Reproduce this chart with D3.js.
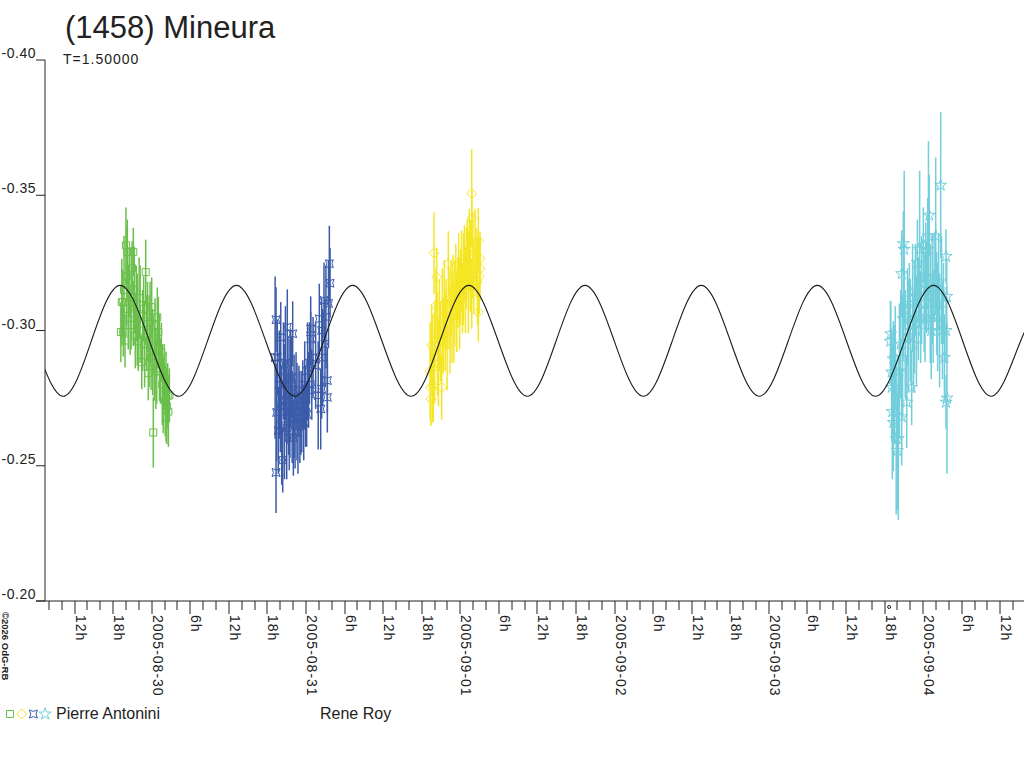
<!DOCTYPE html>
<html lang="en">
<head>
<meta charset="UTF-8">
<title>(1458) Mineura</title>
<script src="https://cdn.jsdelivr.net/npm/d3@7"></script>
<style>
  body { margin: 0; background: #fff; }
  text { font-family: "Liberation Sans", Arial, sans-serif; fill: #222; }
</style>
</head>
<body>
<script>
// hours since 2005-08-29 00:00 UT, magnitude, error
var green = [
  [19.20,-0.2994,0.0110],[19.35,-0.3105,0.0160],[19.49,-0.3105,0.0120],[19.58,-0.2994,0.0090],
  [19.70,-0.3150,0.0200],[19.85,-0.2963,0.0100],[20.00,-0.3315,0.0140],[20.10,-0.3200,0.0180],
  [20.21,-0.3290,0.0120],[20.35,-0.3080,0.0150],[20.50,-0.3180,0.0130],[20.65,-0.3020,0.0110],
  [20.80,-0.3120,0.0190],[20.95,-0.3230,0.0100],[21.14,-0.3290,0.0090],[21.14,-0.3063,0.0120],
  [21.30,-0.3150,0.0160],[21.45,-0.2980,0.0120],[21.60,-0.3100,0.0140],[21.75,-0.3040,0.0170],
  [21.90,-0.2960,0.0110],[22.05,-0.3120,0.0150],[22.20,-0.3060,0.0180],[22.45,-0.2883,0.0100],
  [22.60,-0.3000,0.0150],[22.75,-0.3080,0.0120],[22.90,-0.2950,0.0160],[23.07,-0.3216,0.0120],
  [23.20,-0.2990,0.0140],[23.35,-0.3050,0.0130],[23.47,-0.2842,0.0100],[23.60,-0.2960,0.0170],
  [23.75,-0.3030,0.0150],[23.90,-0.2900,0.0120],[24.00,-0.3086,0.0110],[24.15,-0.2920,0.0160],
  [24.25,-0.2623,0.0130],[24.40,-0.2880,0.0140],[24.51,-0.3019,0.0100],[24.65,-0.2860,0.0150],
  [24.78,-0.2849,0.0120],[24.87,-0.3049,0.0110],[25.03,-0.2994,0.0130],[25.20,-0.2900,0.0160],
  [25.35,-0.2850,0.0120],[25.50,-0.2920,0.0110],[25.65,-0.2800,0.0150],[25.80,-0.2760,0.0140],
  [25.95,-0.2830,0.0120],[26.10,-0.2740,0.0130],[26.23,-0.2821,0.0100],[26.23,-0.2679,0.0090],
  [26.35,-0.2720,0.0140],[26.49,-0.2759,0.0120],[26.60,-0.2700,0.0130],[26.75,-0.2760,0.0100]
];
var blue = [
  [43.20,-0.2900,0.0300],[43.34,-0.3040,0.0120],[43.34,-0.2475,0.0150],[43.44,-0.2697,0.0180],
  [43.54,-0.2901,0.0140],[43.69,-0.2630,0.0160],[43.85,-0.2800,0.0200],[44.00,-0.2720,0.0170],
  [44.07,-0.2975,0.0130],[44.22,-0.2650,0.0220],[44.38,-0.2521,0.0120],[44.50,-0.2850,0.0180],
  [44.65,-0.2700,0.0250],[44.80,-0.2880,0.0210],[44.89,-0.2741,0.0150],[45.00,-0.2640,0.0190],
  [45.09,-0.3012,0.0140],[45.20,-0.2780,0.0200],[45.30,-0.2700,0.0160],[45.40,-0.2603,0.0120],
  [45.50,-0.2750,0.0220],[45.62,-0.2820,0.0180],[45.78,-0.2827,0.0150],[45.85,-0.2680,0.0170],
  [45.93,-0.2988,0.0120],[46.03,-0.2603,0.0140],[46.15,-0.2720,0.0190],[46.30,-0.2650,0.0160],
  [46.45,-0.2780,0.0140],[46.60,-0.2700,0.0180],[46.75,-0.2620,0.0150],[46.90,-0.2740,0.0130],
  [47.05,-0.2680,0.0170],[47.20,-0.2650,0.0110],[47.35,-0.2700,0.0150],[47.50,-0.2760,0.0130],
  [47.65,-0.2660,0.0140],[47.80,-0.2800,0.0160],[47.95,-0.2720,0.0150],[48.10,-0.2690,0.0120],
  [48.25,-0.2850,0.0180],[48.40,-0.2780,0.0140],[48.55,-0.2880,0.0150],[48.73,-0.3006,0.0120],
  [48.73,-0.2969,0.0100],[48.90,-0.2800,0.0130],[49.10,-0.2900,0.0150],[49.50,-0.2870,0.0160],
  [49.90,-0.2760,0.0200],[50.07,-0.3043,0.0130],[50.29,-0.2710,0.0150],[50.44,-0.3000,0.0120],
  [50.44,-0.2784,0.0110],[50.60,-0.2900,0.0180],[50.80,-0.3111,0.0140],[50.95,-0.2950,0.0160],
  [51.10,-0.3050,0.0190],[51.32,-0.2815,0.0120],[51.32,-0.2753,0.0130],[51.50,-0.3100,0.0160],
  [51.63,-0.3247,0.0140],[51.74,-0.3175,0.0130]
];
var yellow = [
  [67.30,-0.2850,0.0180],[67.40,-0.2790,0.0140],[67.40,-0.2747,0.0100],[67.55,-0.2944,0.0150],
  [67.70,-0.2860,0.0200],[67.80,-0.2793,0.0130],[67.91,-0.3286,0.0150],[68.00,-0.2900,0.0170],
  [68.07,-0.2988,0.0120],[68.22,-0.3093,0.0140],[68.33,-0.3197,0.0110],[68.45,-0.2950,0.0190],
  [68.60,-0.2880,0.0160],[68.75,-0.3020,0.0170],[68.90,-0.2960,0.0150],[69.11,-0.2790,0.0120],
  [69.20,-0.3050,0.0180],[69.35,-0.2980,0.0140],[69.50,-0.3100,0.0160],[69.65,-0.3000,0.0150],
  [69.80,-0.3060,0.0130],[69.95,-0.2950,0.0170],[70.14,-0.3247,0.0120],[70.25,-0.3080,0.0150],
  [70.40,-0.3000,0.0160],[70.55,-0.3120,0.0140],[70.70,-0.3050,0.0170],[70.85,-0.3150,0.0130],
  [71.00,-0.3030,0.0150],[71.15,-0.3100,0.0160],[71.30,-0.3180,0.0140],[71.45,-0.3070,0.0150],
  [71.60,-0.3140,0.0130],[71.75,-0.3200,0.0160],[71.90,-0.3100,0.0170],[72.05,-0.3160,0.0140],
  [72.20,-0.3220,0.0150],[72.35,-0.3120,0.0130],[72.50,-0.3190,0.0170],[72.65,-0.3250,0.0140],
  [72.80,-0.3150,0.0160],[72.95,-0.3230,0.0150],[73.10,-0.3280,0.0130],[73.25,-0.3180,0.0190],
  [73.40,-0.3300,0.0150],[73.55,-0.3240,0.0170],[73.78,-0.3506,0.0165],[73.78,-0.3414,0.0100],
  [73.78,-0.3137,0.0130],[73.95,-0.3280,0.0160],[74.10,-0.3200,0.0140],[74.30,-0.3300,0.0150],
  [74.50,-0.3250,0.0130],[74.65,-0.3180,0.0160],[74.80,-0.3333,0.0120],[74.80,-0.3068,0.0110],
  [74.95,-0.3200,0.0140],[75.07,-0.3266,0.0100],[75.07,-0.3229,0.0120]
];
var cyan = [
  [138.90,-0.2960,0.0150],[138.95,-0.2988,0.0120],[139.10,-0.2846,0.0160],[139.10,-0.2790,0.0200],
  [139.20,-0.2700,0.0250],[139.35,-0.2895,0.0140],[139.35,-0.2660,0.0180],[139.50,-0.2800,0.0220],
  [139.65,-0.2900,0.0190],[139.80,-0.2600,0.0280],[139.98,-0.2556,0.0220],[140.13,-0.2600,0.0300],
  [140.30,-0.2850,0.0250],[140.50,-0.2950,0.0200],[140.66,-0.3210,0.0160],[140.66,-0.2681,0.0180],
  [140.80,-0.2900,0.0230],[140.91,-0.3321,0.0120],[140.91,-0.3043,0.0150],[141.05,-0.3300,0.0290],
  [141.20,-0.2950,0.0200],[141.44,-0.2735,0.0170],[141.55,-0.3050,0.0180],[141.70,-0.2980,0.0210],
  [141.85,-0.3100,0.0150],[142.00,-0.3000,0.0190],[142.21,-0.2790,0.0140],[142.35,-0.3120,0.0200],
  [142.50,-0.2950,0.0180],[142.65,-0.3050,0.0210],[142.80,-0.3150,0.0170],[142.95,-0.3000,0.0200],
  [143.10,-0.3250,0.0160],[143.25,-0.3080,0.0190],[143.45,-0.3300,0.0290],[143.60,-0.3050,0.0170],
  [143.75,-0.3150,0.0200],[144.02,-0.3315,0.0140],[144.15,-0.3100,0.0180],[144.29,-0.3043,0.0160],
  [144.40,-0.3200,0.0200],[144.54,-0.3160,0.0170],[144.70,-0.3300,0.0190],[144.82,-0.3350,0.0350],
  [144.95,-0.3426,0.0150],[145.10,-0.3100,0.0220],[145.25,-0.3000,0.0180],[145.40,-0.3150,0.0200],
  [145.55,-0.3050,0.0170],[145.70,-0.3200,0.0160],[145.95,-0.3350,0.0290],[146.10,-0.3100,0.0190],
  [146.25,-0.3050,0.0200],[146.40,-0.3180,0.0180],[146.55,-0.3000,0.0210],[146.72,-0.3537,0.0270],
  [146.85,-0.3150,0.0200],[147.00,-0.3000,0.0180],[147.15,-0.3100,0.0150],[147.30,-0.2900,0.0160],
  [147.55,-0.3274,0.0100],[147.55,-0.3000,0.0120],[147.55,-0.2735,0.0100],[147.66,-0.3126,0.0140],
  [147.70,-0.2750,0.0280]
];
// fitted curve, maxima / minima / mid points
var model = [
  [1.07,-0.3167],[5.60,-0.2962],[10.13,-0.2757],[14.62,-0.2962],[19.10,-0.3167],[23.64,-0.2962],
  [28.20,-0.2757],[32.69,-0.2962],[37.18,-0.3167],[41.72,-0.2962],[46.27,-0.2757],[50.76,-0.2962],
  [55.25,-0.3167],[59.80,-0.2962],[64.35,-0.2757],[68.84,-0.2962],[73.33,-0.3167],[77.88,-0.2962],
  [82.42,-0.2757],[86.91,-0.2962],[91.40,-0.3167],[95.94,-0.2962],[100.47,-0.2757],[104.98,-0.2962],
  [109.48,-0.3167],[114.00,-0.2962],[118.51,-0.2757],[123.02,-0.2962],[127.53,-0.3167],[132.06,-0.2962],
  [136.58,-0.2757],[141.09,-0.2962],[145.60,-0.3167],[150.13,-0.2962],[154.66,-0.2757],[159.17,-0.2962],
  [163.68,-0.3167]
];
var yTicks = [-0.40, -0.35, -0.30, -0.25, -0.20];
var timeRange = [7.404, 159.68];
var marks = [138.7];
var observers = ["Pierre Antonini", "Rene Roy"];

var w = 1024, h = 768;
var base = Date.UTC(2005, 7, 29);
function toDate(hr) { return new Date(base + hr * 3600000); }

var svg = d3.select("body").append("svg")
  .attr("width", w)
  .attr("height", h);

var x = d3.scaleUtc()
  .domain([toDate(timeRange[0]), toDate(timeRange[1])])
  .range([45, 1024]);
var y = d3.scaleLinear()
  .domain([-0.40, -0.20])
  .range([60, 601]);

svg.append("defs").append("clipPath").attr("id", "plot")
  .append("rect").attr("x", 45).attr("y", 0).attr("width", w - 45).attr("height", 601);

// title
svg.append("text").attr("x", 65).attr("y", 38)
  .attr("font-size", "31px").text("(1458) Mineura");
svg.append("text").attr("x", 63).attr("y", 64)
  .attr("font-size", "14px").attr("letter-spacing", "1px").text("T=1.50000");

// y axis
svg.append("line").attr("x1", 45).attr("x2", 45).attr("y1", y(-0.40)).attr("y2", 601)
  .attr("stroke", "#222");
var yt = svg.selectAll(".ytick").data(yTicks).enter().append("g")
  .attr("transform", function(d) { return "translate(0," + y(d) + ")"; });
yt.append("line").attr("x1", 36).attr("x2", 45).attr("stroke", "#222");
yt.append("text").attr("x", 36).attr("y", -2).attr("text-anchor", "end")
  .attr("font-size", "14px").attr("letter-spacing", "0.5px")
  .text(function(d) { return d.toFixed(2); });

// x axis
svg.append("line").attr("x1", 36).attr("x2", 1024).attr("y1", 601).attr("y2", 601)
  .attr("stroke", "#222");
var hours = d3.utcHour.every(2).range(x.domain()[0], x.domain()[1]);
var xt = svg.selectAll(".xtick").data(hours).enter().append("g")
  .attr("transform", function(d) { return "translate(" + Math.round(x(d)) + ",601)"; });
xt.append("line").attr("y1", 0)
  .attr("y2", function(d) { return d.getUTCHours() % 6 == 0 ? 13 : 9; })
  .attr("stroke", "#222");
xt.filter(function(d) { return d.getUTCHours() % 6 == 0; })
  .append("text")
  .attr("transform", "translate(1,14) rotate(90)")
  .attr("font-size", "14px").attr("letter-spacing", "1px")
  .text(function(d) {
    var hr = d.getUTCHours();
    return hr == 0 ? d3.utcFormat("%Y-%m-%d")(d) : hr + "h";
  });
svg.selectAll(".mark").data(marks).enter().append("circle")
  .attr("cx", function(d) { return x(toDate(d)); })
  .attr("cy", 607).attr("r", 1.5)
  .attr("fill", "none").attr("stroke", "#222");

// copyright
svg.append("text").attr("transform", "translate(2,612) rotate(90)")
  .attr("font-size", "9.5px").attr("font-weight", "bold").text("\u00a92026 OdG-RB");

// symbols
var symSquare = d3.symbol().type(d3.symbolSquare).size(49)();
var symDiamond = "M0,-5L5,0L0,5L-5,0Z";
var symCross = "M-4,-4L0,-2.6L4,-4L2.6,0L4,4L0,2.6L-4,4L-2.6,0Z";
var symStar = d3.symbol().type(d3.symbolStar).size(45)();

var series = [
  { data: green, color: "#6abf4b", sym: symSquare },
  { data: yellow, color: "#f5e625", sym: symDiamond },
  { data: blue, color: "#3b5ba9", sym: symCross },
  { data: cyan, color: "#72cedb", sym: symStar }
];

var plot = svg.append("g").attr("clip-path", "url(#plot)");

series.forEach(function(s) {
  var g = plot.append("g");
  g.selectAll("path").data(s.data).enter().append("path")
    .attr("d", s.sym)
    .attr("transform", function(d) { return "translate(" + x(toDate(d[0])) + "," + y(d[1]) + ")"; })
    .attr("fill", "none").attr("stroke", s.color).attr("stroke-width", 1);
  g.selectAll("line").data(s.data).enter().append("line")
    .attr("x1", function(d) { return x(toDate(d[0])); })
    .attr("x2", function(d) { return x(toDate(d[0])); })
    .attr("y1", function(d) { return y(d[1] - d[2]); })
    .attr("y2", function(d) { return y(d[1] + d[2]); })
    .attr("stroke", s.color).attr("stroke-width", 1.5);
});

var line = d3.line()
  .x(function(d) { return x(toDate(d[0])); })
  .y(function(d) { return y(d[1]); })
  .curve(d3.curveNatural);
plot.append("path").datum(model)
  .attr("d", line)
  .attr("fill", "none").attr("stroke", "#1a1a1a").attr("stroke-width", 1.1);

// legend
var lg = svg.append("g").attr("transform", "translate(0,714)");
series.forEach(function(s, i) {
  lg.append("path").attr("d", s.sym)
    .attr("transform", "translate(" + (10 + i * 11.7) + ",0)")
    .attr("fill", "none").attr("stroke", s.color);
});
lg.append("text").attr("x", 56).attr("y", 5).attr("font-size", "16px").text(observers[0]);
lg.append("text").attr("x", 320).attr("y", 5).attr("font-size", "16px").text(observers[1]);
</script>
</body>
</html>
